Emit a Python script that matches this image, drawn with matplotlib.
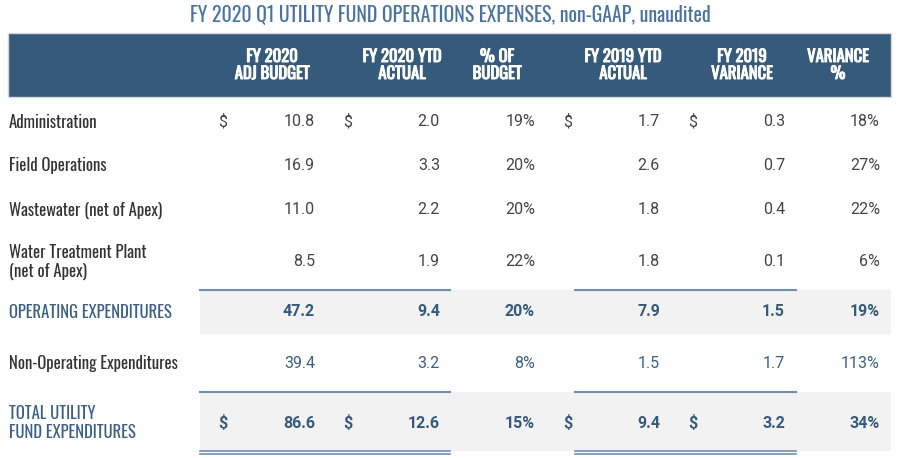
import matplotlib
matplotlib.use("Agg")
import matplotlib.pyplot as plt
import matplotlib.patheffects as pe
from matplotlib.patches import Rectangle
from matplotlib import font_manager

# table contents
title = "FY 2020 Q1 UTILITY FUND OPERATIONS EXPENSES, non-GAAP, unaudited"
headers = ["FY 2020\nADJ BUDGET", "FY 2020 YTD\nACTUAL", "% OF\nBUDGET",
           "FY 2019 YTD\nACTUAL", "FY 2019\nVARIANCE", "VARIANCE\n%"]
row_labels = ["Administration", "Field Operations", "Wastewater (net of Apex)",
              "Water Treatment Plant\n(net of Apex)", "OPERATING EXPENDITURES",
              "Non-Operating Expenditures", "TOTAL UTILITY\nFUND EXPENDITURES"]
adj_budget = [10.8, 16.9, 11.0, 8.5, 47.2, 39.4, 86.6]
ytd_2020 = [2.0, 3.3, 2.2, 1.9, 9.4, 3.2, 12.6]
pct_budget = [19, 20, 20, 22, 20, 8, 15]
ytd_2019 = [1.7, 2.6, 1.8, 1.8, 7.9, 1.5, 9.4]
variance = [0.3, 0.7, 0.4, 0.1, 1.5, 1.7, 3.2]
variance_pct = [18, 27, 22, 6, 19, 113, 34]

names = {f.name for f in font_manager.fontManager.ttflist}
if "Oswald" in names:
    narrow = dict(family="Oswald")
    light = dict(family="Oswald", fontweight="light")
    heavy = dict(family="Oswald")
else:
    narrow = dict(family="DejaVu Sans", fontstretch="condensed")
    light = narrow
    heavy = narrow

dark = "#333333"
blue = "#3b5f86"
head = "#355a7c"

fig = plt.figure(figsize=(9, 4.58), dpi=100)
ax = fig.add_axes([0, 0, 1, 1])
ax.set_xlim(0, 900)
ax.set_ylim(458, 0)
ax.axis("off")

ax.text(450, 15, title, ha="center", va="center", fontsize=14.3, color="#4873a0",
        **narrow)

ax.add_patch(Rectangle((8, 33), 883, 64, facecolor=head, edgecolor="#d8d8d8", lw=1))
head_x = [272, 402, 497, 623, 742, 838]
for x, h in zip(head_x, headers):
    ax.text(x, 65, h, ha="center", va="center", color="white", fontsize=12,
            linespacing=1.0, path_effects=[pe.withStroke(linewidth=0.7, foreground="white")],
            **heavy)

row_y = [122, 166, 210, 262, 312, 364, 423]
num_x = [315, 440, 535, 660, 785, 880]
dollar_x = [218, 343, 563, 688]
line_spans = [(200, 450), (575, 796)]

# shaded summary rows
for y0, y1 in [(290, 334), (392, 451)]:
    ax.add_patch(Rectangle((200, y0), 691, y1 - y0, facecolor="#f2f2f2", lw=0))
for a, b in line_spans:
    ax.plot([a, b], [290, 290], color="#6f8fb3", lw=1.5)
    ax.plot([a, b], [392, 392], color="#6f8fb3", lw=1.5)
    ax.plot([a, b], [451, 451], color="#6f8fb3", lw=1.2)
    ax.plot([a, b], [454, 454], color="#6f8fb3", lw=1.2)

for i, lab in enumerate(row_labels):
    y = row_y[i]
    summary = i in (4, 6)
    lab_color = blue if summary else dark
    ax.text(9, y, lab, ha="left", va="center", fontsize=12, color=lab_color,
            linespacing=1.1, **light)
    if summary:
        col, wt = head, "bold"
    elif i == 5:
        col, wt = blue, "normal"
    else:
        col, wt = "#444444", "normal"
    vals = [f"{adj_budget[i]:.1f}", f"{ytd_2020[i]:.1f}", f"{pct_budget[i]}%",
            f"{ytd_2019[i]:.1f}", f"{variance[i]:.1f}", f"{variance_pct[i]}%"]
    for x, v in zip(num_x, vals):
        ax.text(x, y, v, ha="right", va="center", fontsize=11.5, color=col,
                fontweight=wt, family="Roboto")
    if i in (0, 6):
        for x in dollar_x:
            ax.text(x, y, "$", ha="left", va="center", fontsize=11.5, color=col,
                    fontweight=wt, family="Roboto")

fig.savefig("out.png", dpi=100)
